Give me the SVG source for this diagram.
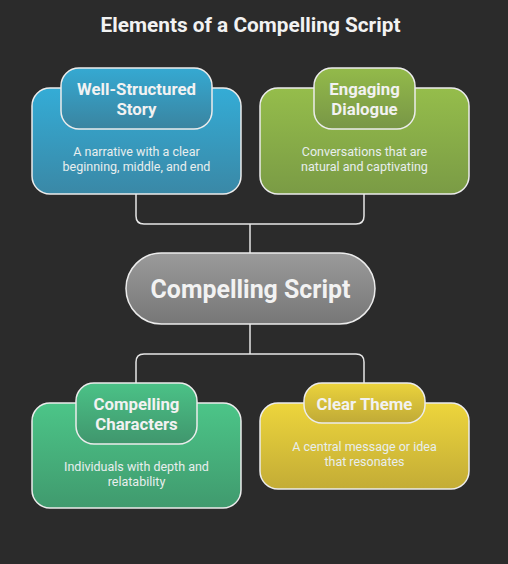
<svg xmlns="http://www.w3.org/2000/svg" width="508" height="564" viewBox="0 0 508 564">
<defs>
<linearGradient id="gBlue" x1="0" y1="0" x2="0" y2="1"><stop offset="0" stop-color="#34acd6"/><stop offset="1" stop-color="#3a88a6"/></linearGradient>
<linearGradient id="gBlueP" x1="0" y1="0" x2="0" y2="1"><stop offset="0" stop-color="#35a9d2"/><stop offset="1" stop-color="#3a84a0"/></linearGradient>
<linearGradient id="gGreen" x1="0" y1="0" x2="0" y2="1"><stop offset="0" stop-color="#95bd4b"/><stop offset="1" stop-color="#7a9b45"/></linearGradient>
<linearGradient id="gGreenP" x1="0" y1="0" x2="0" y2="1"><stop offset="0" stop-color="#93ba4a"/><stop offset="1" stop-color="#789646"/></linearGradient>
<linearGradient id="gTeal" x1="0" y1="0" x2="0" y2="1"><stop offset="0" stop-color="#4cc588"/><stop offset="1" stop-color="#409a6e"/></linearGradient>
<linearGradient id="gTealP" x1="0" y1="0" x2="0" y2="1"><stop offset="0" stop-color="#4bc287"/><stop offset="1" stop-color="#40966d"/></linearGradient>
<linearGradient id="gYellow" x1="0" y1="0" x2="0" y2="1"><stop offset="0" stop-color="#edd53c"/><stop offset="1" stop-color="#c3ac36"/></linearGradient>
<linearGradient id="gYellowP" x1="0" y1="0" x2="0" y2="1"><stop offset="0" stop-color="#ebd33c"/><stop offset="1" stop-color="#c0aa37"/></linearGradient>
<linearGradient id="gGray" x1="0" y1="0" x2="0" y2="1"><stop offset="0" stop-color="#9a9a9a"/><stop offset="1" stop-color="#777777"/></linearGradient>
</defs>
<style>
.card{stroke:#ececec;stroke-width:1.5}
.ttl{font-family:Roboto,"Liberation Sans",sans-serif;font-weight:bold;font-size:16.8px;fill:#f2f2f2;text-anchor:middle}
.dsc{font-family:Roboto,"Liberation Sans",sans-serif;font-size:12.5px;fill:#e8eeee;text-anchor:middle}
.conn{fill:none;stroke:#e6e6e6;stroke-width:1.5}
</style>
<rect width="508" height="564" fill="#2b2b2b"/>
<text x="250.5" y="32" font-family="Roboto,'Liberation Sans',sans-serif" font-weight="bold" font-size="20.8" fill="#f2f2f2" text-anchor="middle">Elements of a Compelling Script</text>
<g id="connectors">
<path class="conn" d="M136 194 V216 Q136 224 144 224 H356 Q364 224 364 216 V194"/>
<path class="conn" d="M250 224 V253"/>
<path class="conn" d="M250 324 V354"/>
<path class="conn" d="M136 403 V362 Q136 354 144 354 H356 Q364 354 364 362 V403"/>
</g>
<g id="story">
<rect class="card" x="32" y="88" width="209" height="106" rx="18" fill="url(#gBlue)"/>
<rect class="card" x="61" y="68" width="151" height="61" rx="18" fill="url(#gBlueP)"/>
<text class="ttl" x="136.5" y="95">Well-Structured</text>
<text class="ttl" x="136.5" y="115">Story</text>
<text class="dsc" x="136.5" y="156">A narrative with a clear</text>
<text class="dsc" x="136.5" y="171">beginning, middle, and end</text>
</g>
<g id="dialogue">
<rect class="card" x="260" y="88" width="209" height="106" rx="18" fill="url(#gGreen)"/>
<rect class="card" x="314" y="68" width="101" height="61" rx="18" fill="url(#gGreenP)"/>
<text class="ttl" x="364.5" y="95">Engaging</text>
<text class="ttl" x="364.5" y="115">Dialogue</text>
<text class="dsc" x="364.5" y="156">Conversations that are</text>
<text class="dsc" x="364.5" y="171">natural and captivating</text>
</g>
<g id="center">
<rect class="card" x="126" y="253" width="249" height="71" rx="35.5" fill="url(#gGray)"/>
<text x="250.5" y="297.5" font-family="Roboto,'Liberation Sans',sans-serif" font-weight="bold" font-size="24.9" fill="#f2f2f2" text-anchor="middle">Compelling Script</text>
</g>
<g id="characters">
<rect class="card" x="32" y="403" width="209" height="105" rx="18" fill="url(#gTeal)"/>
<rect class="card" x="76" y="383" width="121" height="61" rx="18" fill="url(#gTealP)"/>
<text class="ttl" x="136.5" y="410">Compelling</text>
<text class="ttl" x="136.5" y="430">Characters</text>
<text class="dsc" x="136.5" y="471">Individuals with depth and</text>
<text class="dsc" x="136.5" y="486">relatability</text>
</g>
<g id="theme">
<rect class="card" x="260" y="403" width="209" height="86" rx="18" fill="url(#gYellow)"/>
<rect class="card" x="304" y="383" width="121" height="40" rx="18" fill="url(#gYellowP)"/>
<text class="ttl" x="364.5" y="410">Clear Theme</text>
<text class="dsc" x="364.5" y="451">A central message or idea</text>
<text class="dsc" x="364.5" y="466">that resonates</text>
</g>
</svg>
